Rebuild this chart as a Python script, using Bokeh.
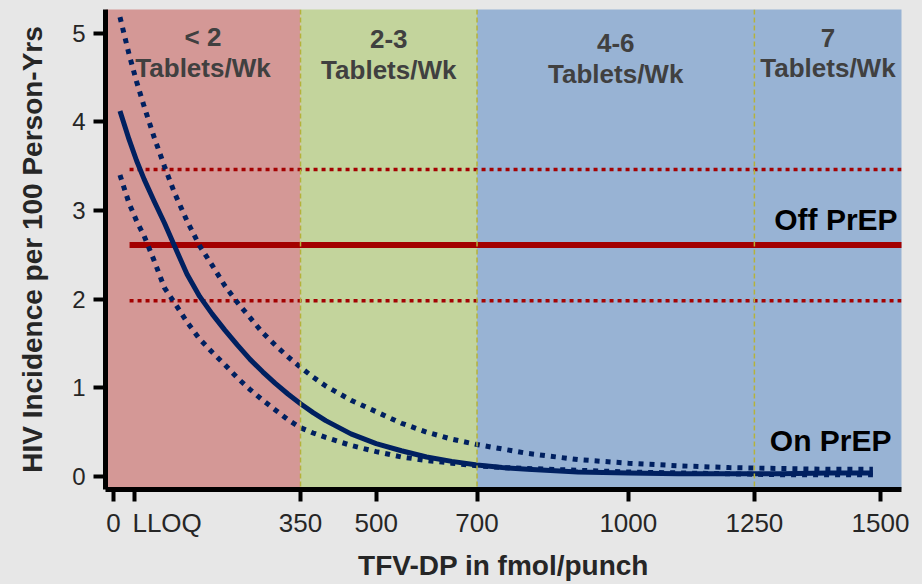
from bokeh.plotting import figure
from bokeh.models import Range1d, FixedTicker, Span
from bokeh.core.properties import value
from bokeh.embed import file_html
from bokeh.resources import INLINE

# ---- data ----
x_tfv = [-8, 10, 25, 40, 60, 80, 100, 125, 150, 175, 200, 225, 250, 275, 300, 325, 350,
         375, 400, 450, 500, 550, 600, 650, 700, 750, 800, 900, 1000, 1100, 1200, 1300,
         1400, 1485]
on_prep = [4.12, 3.80, 3.56, 3.35, 3.10, 2.86, 2.60, 2.28, 2.03, 1.83, 1.65, 1.48, 1.32,
           1.18, 1.05, 0.93, 0.82, 0.72, 0.63, 0.48, 0.37, 0.29, 0.22, 0.17, 0.13, 0.10,
           0.08, 0.05, 0.04, 0.03, 0.03, 0.03, 0.04, 0.04]
on_prep_upper = [5.18, 4.76, 4.45, 4.17, 3.82, 3.50, 3.20, 2.88, 2.60, 2.38, 2.15, 1.96,
                 1.79, 1.62, 1.48, 1.35, 1.23, 1.12, 1.02, 0.86, 0.73, 0.60, 0.50, 0.42,
                 0.36, 0.31, 0.26, 0.19, 0.15, 0.12, 0.10, 0.09, 0.08, 0.08]
on_prep_lower = [3.40, 3.08, 2.88, 2.71, 2.43, 2.13, 1.96, 1.74, 1.55, 1.40, 1.26, 1.11,
                 0.98, 0.86, 0.75, 0.64, 0.55, 0.49, 0.44, 0.35, 0.28, 0.22, 0.18, 0.15,
                 0.12, 0.10, 0.09, 0.07, 0.05, 0.04, 0.03, 0.02, 0.02, 0.02]

off_prep_x = [11, 1600]
off_prep = 2.61
off_prep_upper = 3.46
off_prep_lower = 1.98

band_edges = [350, 700]            # adherence band boundaries
divider_positions = [350, 700, 1250]
band_top_labels = ["< 2", "2-3", "4-6", "7"]
band_bottom_labels = ["Tablets/Wk", "Tablets/Wk", "Tablets/Wk", "Tablets/Wk"]
label_segments = [350, 700, 1250]

x_tick_pos = [-21, 21, 350, 500, 700, 1000, 1250, 1500]
x_tick_labels = ["0", "\u00a0" * 9 + "LLOQ", "350", "500", "700", "1000", "1250", "1500"]
y_ticks = [0, 1, 2, 3, 4, 5]

# ---- layout / style ----
X0, X1 = -36.7, 1541.7
Y0, Y1 = -0.147, 5.265
BG = "#e7e7e7"
FONT = "Liberation Sans"
NAVY = "#002060"
DRED = "#a30000"
band_colors = ["#d49896", "#c3d49c", "#98b3d4"]
TXT_DY = -8

p = figure(width=922, height=584, x_range=Range1d(X0, X1), y_range=Range1d(Y0, Y1),
           output_backend="svg", toolbar_location=None,
           min_border_left=105, min_border_right=21, min_border_top=9, min_border_bottom=95)
p.background_fill_color = BG
p.border_fill_color = BG
p.outline_line_color = None
p.grid.visible = False

# bands
lefts = [X0] + band_edges
rights = band_edges + [X1 + 100]
p.quad(left=lefts, right=rights, bottom=Y0 - 1, top=Y1 + 1,
       fill_color=band_colors, line_color=None)

# off PrEP lines
p.line(off_prep_x, [off_prep] * 2, line_color=DRED, line_width=6)
p.line(off_prep_x, [off_prep_upper] * 2, line_color=DRED, line_width=3.5, line_dash="4 4")
p.line(off_prep_x, [off_prep_lower] * 2, line_color=DRED, line_width=3.5, line_dash="4 4")

# on PrEP curves
p.line(x_tfv, on_prep_upper, line_color=NAVY, line_width=5, line_dash="5 6")
p.line(x_tfv, on_prep_lower, line_color=NAVY, line_width=5, line_dash="5 6")
p.line(x_tfv, on_prep, line_color=NAVY, line_width=5, line_join="round")

for d in divider_positions:
    p.add_layout(Span(location=d, dimension="height", line_color="#b5b23a",
                      line_width=1.5, line_dash="5 3"))

# band labels
segs = [X0] + label_segments + [X1]
cx = [(segs[i] + segs[i + 1]) / 2 for i in range(len(band_top_labels))]
p.text(x=cx, y=[4.86, 4.84, 4.80, 4.85], text=band_top_labels, text_align="center",
       text_baseline="alphabetic", text_font=value(FONT), text_font_style="bold",
       text_font_size="26px", text_color="#404040", y_offset=TXT_DY)
p.text(x=cx, y=[4.51, 4.49, 4.45, 4.51], text=band_bottom_labels, text_align="center",
       text_baseline="alphabetic", text_font=value(FONT), text_font_style="bold",
       text_font_size="26px", text_color="#404040", y_offset=TXT_DY)

p.text(x=[1534], y=[2.81], text=["Off PrEP"], text_align="right", text_baseline="alphabetic",
       text_font=value(FONT), text_font_style="bold", text_font_size="30px",
       text_color="black", y_offset=TXT_DY)
p.text(x=[1522], y=[0.32], text=["On PrEP"], text_align="right", text_baseline="alphabetic",
       text_font=value(FONT), text_font_style="bold", text_font_size="30px",
       text_color="black", y_offset=TXT_DY)

# axes
for ax in (p.xaxis[0], p.yaxis[0]):
    ax.axis_line_color = "black"
    ax.axis_line_width = 5
    ax.major_tick_line_color = "black"
    ax.major_tick_line_width = 4
    ax.major_tick_in = 0
    ax.major_tick_out = 12
    ax.minor_tick_line_color = None
    ax.major_label_text_font = FONT
    ax.major_label_text_color = "#262626"
    ax.axis_label_text_font = FONT
    ax.axis_label_text_font_style = "bold"
    ax.axis_label_text_color = "#262626"

p.xaxis.ticker = FixedTicker(ticks=x_tick_pos)
p.xaxis.major_label_overrides = {float(t): l for t, l in zip(x_tick_pos, x_tick_labels)}
p.xaxis.major_label_text_font_size = "26px"
p.xaxis.major_label_standoff = 6
p.xaxis.axis_label = "TFV-DP in fmol/punch"
p.xaxis.axis_label_text_font_size = "28px"
p.xaxis.axis_label_standoff = 9

p.yaxis.ticker = FixedTicker(ticks=y_ticks)
p.yaxis.major_label_text_font_size = "24px"
p.yaxis.major_label_standoff = 8
p.yaxis.axis_label = "HIV Incidence per 100 Person-Yrs"
p.yaxis.axis_label_text_font_size = "28px"
p.yaxis.axis_label_standoff = 21

html = file_html(p, INLINE)
html = html.replace("<head>", "<head><style>html,body{background:%s;}</style>" % BG, 1)
open("out.html", "w").write(html)
